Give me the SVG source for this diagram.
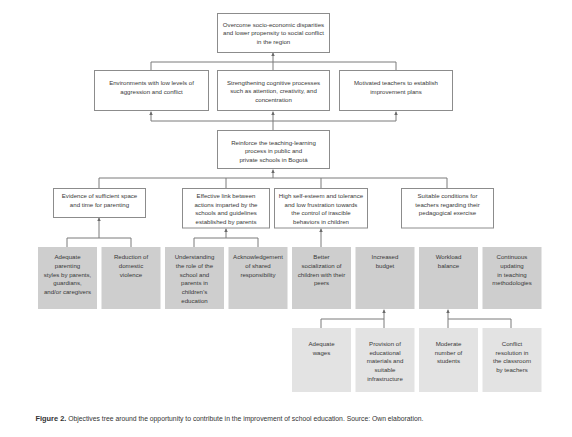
<svg xmlns="http://www.w3.org/2000/svg" width="572" height="437" viewBox="0 0 572 437">
<style>
.bx{fill:#fff;stroke:#8c8c8c;stroke-width:1}
.g1{fill:#cecece;stroke:none}
.g2{fill:#e3e3e3;stroke:none}
.t{font-family:"Liberation Sans",Arial,sans-serif;font-size:6.1px;fill:#383838;text-anchor:middle}
.ln{fill:none;stroke:#7a7a7a;stroke-width:1}
.cap{font-family:"Liberation Sans",Arial,sans-serif;font-size:6.8px;fill:#333}
</style>
<defs>
<marker id="ah" viewBox="0 0 6 6" refX="6" refY="3" markerWidth="3.5" markerHeight="3.5" orient="auto"><path d="M0,0 L6,3 L0,6 z" fill="#6a6a6a"/></marker>
</defs>
<rect width="572" height="437" fill="#fff"/>
<g id="connectors">
<path class="ln" d="M273,62 V52.5" marker-end="url(#ah)"/>
<path class="ln" d="M151,70 V62 H396 V70 M273,62 V70"/>
<path class="ln" d="M151,121 V111.5" marker-end="url(#ah)"/>
<path class="ln" d="M273,130 V111.5" marker-end="url(#ah)"/>
<path class="ln" d="M396,121 V111.5" marker-end="url(#ah)"/>
<path class="ln" d="M151,121 H396"/>
<path class="ln" d="M273,178 V169.5" marker-end="url(#ah)"/>
<path class="ln" d="M99,188 V178 H447 V188 M226,178 V188 M321,178 V188"/>
<path class="ln" d="M99,238 V217.5" marker-end="url(#ah)"/>
<path class="ln" d="M67,247 V238 H131 V247"/>
<path class="ln" d="M226,238 V228.5" marker-end="url(#ah)"/>
<path class="ln" d="M194,247 V238 H258 V247"/>
<path class="ln" d="M321,247 V228.5" marker-end="url(#ah)"/>
<path class="ln" d="M384,319 V309.5" marker-end="url(#ah)"/>
<path class="ln" d="M321,328 V319 H384 V328"/>
<path class="ln" d="M448,319 V309.5" marker-end="url(#ah)"/>
<path class="ln" d="M448,328 V319 H511 V328"/>
</g>
<g id="n-top"><rect class="bx" x="217.5" y="13.5" width="112" height="39"/>
<text class="t" x="273.5" y="26.5">Overcome socio-economic disparities</text>
<text class="t" x="273.5" y="35.3">and lower propensity to social conflict</text>
<text class="t" x="273.5" y="44">in the region</text></g>
<g id="n-env"><rect class="bx" x="94.5" y="70.5" width="114" height="40"/>
<text class="t" x="151.5" y="84.5">Environments with low levels of</text>
<text class="t" x="151.5" y="93.5">aggression and conflict</text></g>
<g id="n-cog"><rect class="bx" x="217.5" y="70.5" width="112" height="40"/>
<text class="t" x="273.5" y="84.5">Strengthening cognitive processes</text>
<text class="t" x="273.5" y="93.3">such as attention, creativity, and</text>
<text class="t" x="273.5" y="102">concentration</text></g>
<g id="n-mot"><rect class="bx" x="339.5" y="70.5" width="113" height="40"/>
<text class="t" x="396" y="84.5">Motivated teachers to establish</text>
<text class="t" x="396" y="93.5">improvement plans</text></g>
<g id="n-reinf"><rect class="bx" x="217.5" y="130.5" width="112" height="38"/>
<text class="t" x="273.5" y="144.5">Reinforce the teaching-learning</text>
<text class="t" x="273.5" y="153">process in public and</text>
<text class="t" x="273.5" y="161.5">private schools in Bogotá</text></g>
<g id="n-evid"><rect class="bx" x="53.5" y="188.5" width="92" height="29"/>
<text class="t" x="99.5" y="198">Evidence of sufficient space</text>
<text class="t" x="99.5" y="206.6">and time for parenting</text></g>
<g id="n-link"><rect class="bx" x="182.5" y="188.5" width="87" height="39.5"/>
<text class="t" x="226" y="198">Effective link between</text>
<text class="t" x="226" y="206.6">actions imparted by the</text>
<text class="t" x="226" y="215.2">schools and guidelines</text>
<text class="t" x="226" y="223.8">established by parents</text></g>
<g id="n-self"><rect class="bx" x="274.5" y="188.5" width="93" height="39.5"/>
<text class="t" x="321" y="198">High self-esteem and tolerance</text>
<text class="t" x="321" y="206.6">and low frustration towards</text>
<text class="t" x="321" y="215.2">the control of irascible</text>
<text class="t" x="321" y="223.8">behaviors in children</text></g>
<g id="n-suit"><rect class="bx" x="401.5" y="188.5" width="92" height="39.5"/>
<text class="t" x="447.5" y="198">Suitable conditions for</text>
<text class="t" x="447.5" y="206.6">teachers regarding their</text>
<text class="t" x="447.5" y="215.2">pedagogical exercise</text></g>
<g id="n-r4-1"><rect class="g1" x="38" y="247" width="59" height="62"/>
<text class="t" x="67.5" y="259">Adequate</text><text class="t" x="67.5" y="267.8">parenting</text><text class="t" x="67.5" y="276.6">styles by parents,</text><text class="t" x="67.5" y="285.4">guardians,</text><text class="t" x="67.5" y="294.2">and/or caregivers</text></g>
<g id="n-r4-2"><rect class="g1" x="101.5" y="247" width="59" height="62"/>
<text class="t" x="131" y="259">Reduction of</text><text class="t" x="131" y="267.8">domestic</text><text class="t" x="131" y="276.6">violence</text></g>
<g id="n-r4-3"><rect class="g1" x="165" y="247" width="59" height="62"/>
<text class="t" x="194.5" y="259">Understanding</text><text class="t" x="194.5" y="267.8">the role of the</text><text class="t" x="194.5" y="276.6">school and</text><text class="t" x="194.5" y="285.4">parents in</text><text class="t" x="194.5" y="294.2">children’s</text><text class="t" x="194.5" y="303">education</text></g>
<g id="n-r4-4"><rect class="g1" x="228.5" y="247" width="59" height="62"/>
<text class="t" x="258" y="259">Acknowledgement</text><text class="t" x="258" y="267.8">of shared</text><text class="t" x="258" y="276.6">responsibility</text></g>
<g id="n-r4-5"><rect class="g1" x="292" y="247" width="59" height="62"/>
<text class="t" x="321.5" y="259">Better</text><text class="t" x="321.5" y="267.8">socialization of</text><text class="t" x="321.5" y="276.6">children with their</text><text class="t" x="321.5" y="285.4">peers</text></g>
<g id="n-r4-6"><rect class="g1" x="355.5" y="247" width="59" height="62"/>
<text class="t" x="385" y="259">Increased</text><text class="t" x="385" y="267.8">budget</text></g>
<g id="n-r4-7"><rect class="g1" x="419" y="247" width="59" height="62"/>
<text class="t" x="448.5" y="259">Workload</text><text class="t" x="448.5" y="267.8">balance</text></g>
<g id="n-r4-8"><rect class="g1" x="482.5" y="247" width="59" height="62"/>
<text class="t" x="512" y="259">Continuous</text><text class="t" x="512" y="267.8">updating</text><text class="t" x="512" y="276.6">in teaching</text><text class="t" x="512" y="285.4">methodologies</text></g>
<g id="n-r5-1"><rect class="g2" x="292" y="328" width="59" height="64"/>
<text class="t" x="321.5" y="346">Adequate</text><text class="t" x="321.5" y="354.7">wages</text></g>
<g id="n-r5-2"><rect class="g2" x="355.5" y="328" width="59" height="64"/>
<text class="t" x="385" y="346">Provision of</text><text class="t" x="385" y="354.7">educational</text><text class="t" x="385" y="363.4">materials and</text><text class="t" x="385" y="372.1">suitable</text><text class="t" x="385" y="380.8">infrastructure</text></g>
<g id="n-r5-3"><rect class="g2" x="419" y="328" width="59" height="64"/>
<text class="t" x="448.5" y="346">Moderate</text><text class="t" x="448.5" y="354.7">number of</text><text class="t" x="448.5" y="363.4">students</text></g>
<g id="n-r5-4"><rect class="g2" x="482.5" y="328" width="59" height="64"/>
<text class="t" x="512" y="346">Conflict</text><text class="t" x="512" y="354.7">resolution in</text><text class="t" x="512" y="363.4">the classroom</text><text class="t" x="512" y="372.1">by teachers</text></g>
<text class="cap" x="35.5" y="421"><tspan font-weight="bold" font-size="7.4">Figure 2.</tspan> Objectives tree around the opportunity to contribute in the improvement of school education. Source: Own elaboration.</text>
</svg>
